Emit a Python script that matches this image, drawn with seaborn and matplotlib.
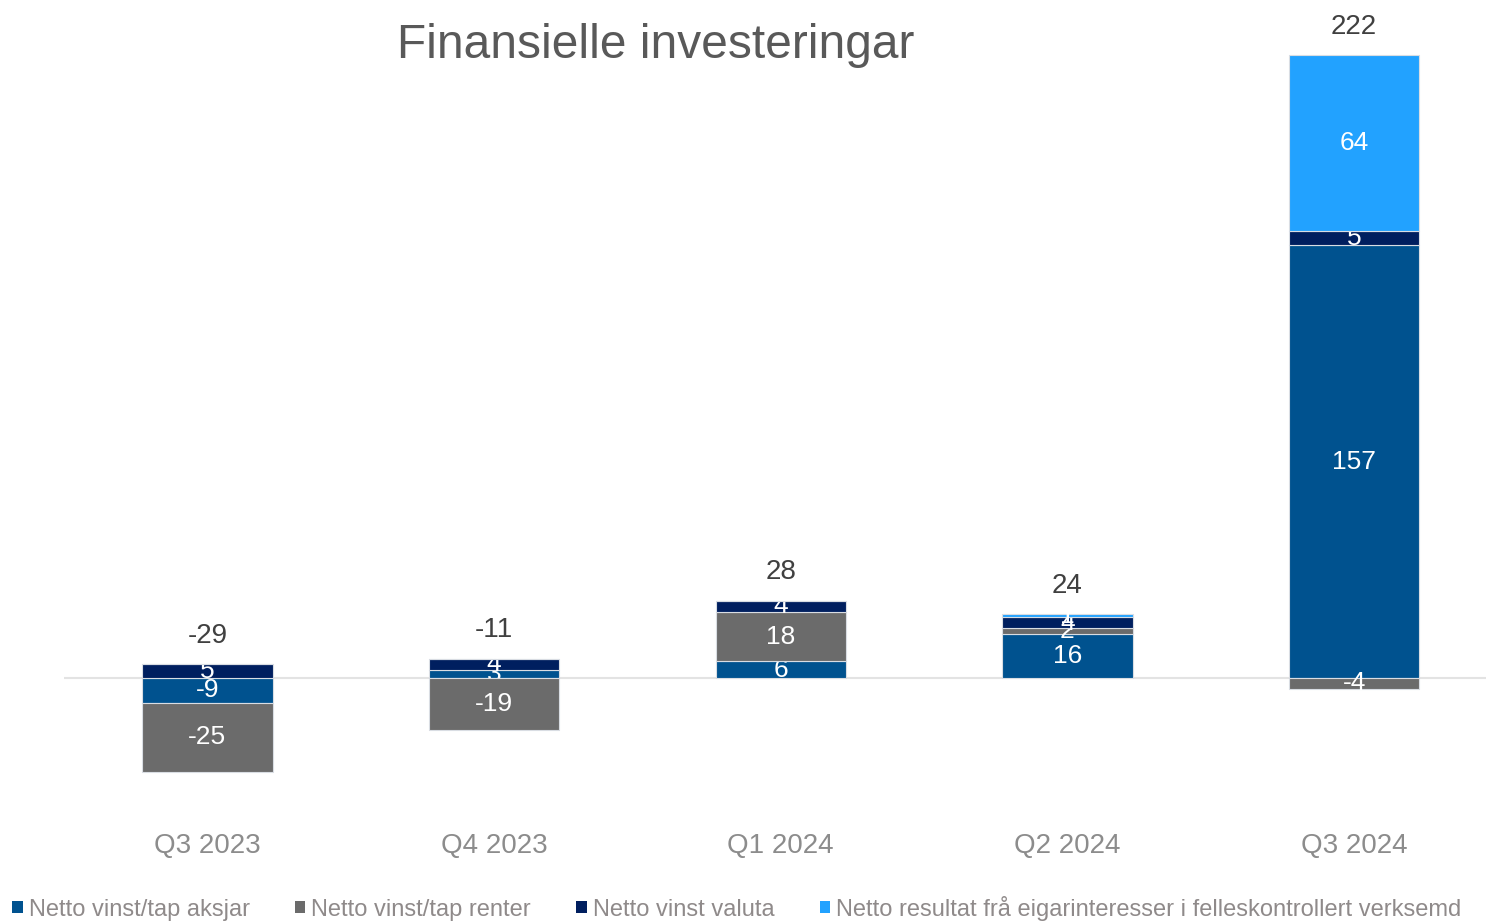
import numpy as np
import pandas as pd
import matplotlib
matplotlib.use("Agg")
import matplotlib.pyplot as plt
import seaborn as sns
from matplotlib.patches import Patch

quarters = ["Q3 2023", "Q4 2023", "Q1 2024", "Q2 2024", "Q3 2024"]
series_names = ["Netto vinst/tap aksjar", "Netto vinst/tap renter",
                "Netto vinst valuta",
                "Netto resultat frå eigarinteresser i felleskontrollert verksemd"]
aksjar = [-9, 3, 6, 16, 157]
renter = [-25, -19, 18, 2, -4]
valuta = [5, 4, 4, 4, 5]
felles = [0, 0, 0, 1, 64]
totals = [-29, -11, 28, 24, 222]

colors = ["#00528f", "#6b6b6b", "#001f5f", "#22a2ff"]

sns.set_theme(style="white")
plt.rcParams["font.family"] = ["Liberation Sans", "DejaVu Sans"]

fig = plt.figure(figsize=(14.86, 9.21), dpi=100)
ax = fig.add_axes([64 / 1486, 121 / 921, 1422 / 1486, 790 / 921])

df = pd.DataFrame({series_names[0]: aksjar, series_names[1]: renter,
                   series_names[2]: valuta, series_names[3]: felles},
                  index=quarters)

x = np.arange(len(quarters))
pos_base = np.zeros(len(quarters))
neg_base = np.zeros(len(quarters))
width = 0.455

for name, col in zip(series_names, colors):
    vals = df[name].to_numpy(dtype=float)
    bottoms = np.where(vals >= 0, pos_base, neg_base)
    bars = ax.bar(x, vals, width=width, bottom=bottoms, color=col,
                  edgecolor="#d9dde3", linewidth=0.8, zorder=3)
    labels = ["" if v == 0 else f"{v:.0f}" for v in vals]
    ax.bar_label(bars, labels=labels, label_type="center", color="white",
                 fontsize=19)
    pos_base = pos_base + np.where(vals > 0, vals, 0)
    neg_base = neg_base + np.where(vals < 0, vals, 0)

# total labels above the positive stack
for xi, top, tot in zip(x, pos_base, totals):
    ax.annotate(f"{tot}", (xi, top), xytext=(0, 11), textcoords="offset points",
                ha="center", va="bottom", fontsize=20, color="#404040")

ax.axhline(0, color="#e3e3e3", linewidth=1.5, zorder=1)
ax.set_xlim(-0.5, 4.46)
ax.set_ylim(-44.3, 242.3)
ax.set_xticks(x)
ax.set_xticklabels(quarters, fontsize=20, color="#8c8c8c")
ax.tick_params(axis="x", length=0, pad=24)
ax.set_yticks([])
sns.despine(ax=ax, left=True, bottom=True)

fig.text(656 / 1486, 1 - 45 / 921, "Finansielle investeringar", ha="center",
         va="center", fontsize=34.5, color="#595959")

handles = [Patch(facecolor=c, edgecolor="none") for c in colors]
leg = fig.legend(handles, series_names, loc="center left",
                 bbox_to_anchor=(12 / 1486, 13 / 921), ncol=4, frameon=False,
                 fontsize=17, handlelength=0.45, handleheight=0.45,
                 handletextpad=0.25, columnspacing=1.92, borderpad=0,
                 borderaxespad=0)
for t in leg.get_texts():
    t.set_color("#8f8a8a")

fig.savefig("out.png", dpi=100)
